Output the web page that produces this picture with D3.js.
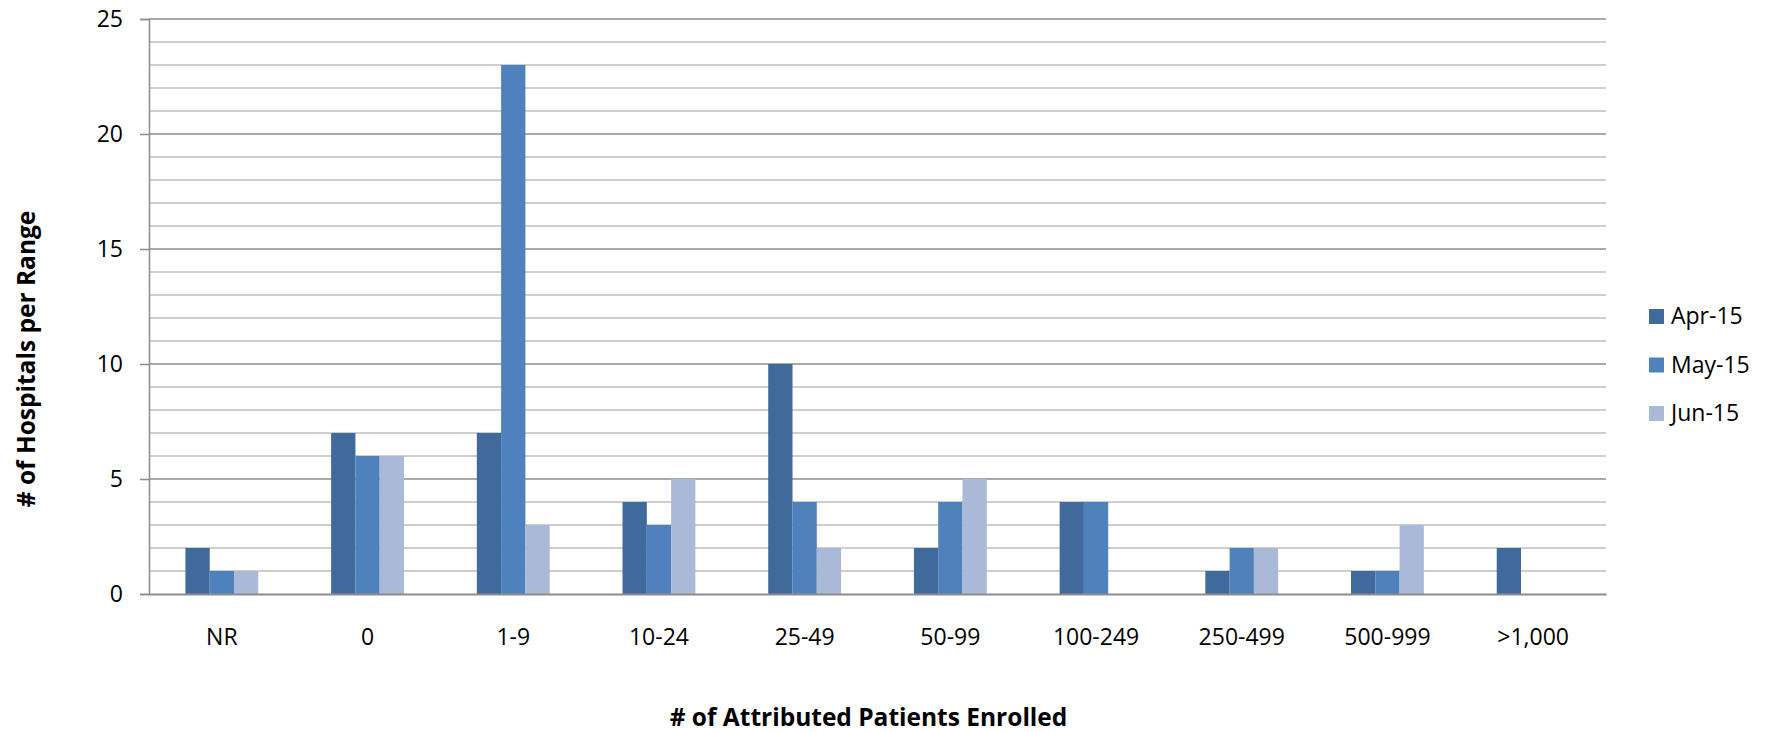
<!DOCTYPE html>
<html>
<head>
<meta charset="utf-8">
<script src="https://cdn.jsdelivr.net/npm/d3@7"></script>
<style>
  html, body { margin: 0; padding: 0; background: #fff; }
  svg text { font-family: "Open Sans", "Noto Sans", sans-serif; fill: #000; }
</style>
</head>
<body>
<svg id="chart" width="1767" height="732"></svg>
<script>
// chart data
const categories = ["NR", "0", "1-9", "10-24", "25-49", "50-99", "100-249", "250-499", "500-999", ">1,000"];
const seriesNames = ["Apr-15", "May-15", "Jun-15"];
const apr15 = [2, 7, 7, 4, 10, 2, 4, 1, 1, 2];
const may15 = [1, 6, 23, 3, 4, 4, 4, 2, 1, 0];
const jun15 = [1, 6, 3, 5, 2, 5, 0, 2, 3, 0];
const yTicks = [0, 5, 10, 15, 20, 25];
const colors = ["#40699c", "#4f81bd", "#aab9d7"];

const svg = d3.select("#chart");
const plot = { left: 149, right: 1606, top: 19, bottom: 594 };

const x = d3.scaleBand().domain(categories).range([plot.left, plot.right]);
const x1 = d3.scaleBand()
  .domain(seriesNames)
  .range([x.bandwidth() * 0.25, x.bandwidth() * 0.75]);
const y = d3.scaleLinear().domain([0, 25]).range([plot.bottom, plot.top]);

// gridlines: minor each unit, major every 5
const gridVals = d3.range(1, 26);
svg.append("g")
  .selectAll("line")
  .data(gridVals)
  .join("line")
  .attr("x1", plot.left)
  .attr("x2", plot.right)
  .attr("y1", (d) => y(d))
  .attr("y2", (d) => y(d))
  .attr("stroke", (d) => (d % 5 === 0 ? "#8c8c8c" : "#bebebe"))
  .attr("stroke-width", 1.5);

// bars
const table = categories.map((c, i) => ({
  cat: c,
  values: [apr15[i], may15[i], jun15[i]],
}));

const groups = svg.append("g")
  .selectAll("g")
  .data(table)
  .join("g")
  .attr("transform", (d) => `translate(${x(d.cat)},0)`);

groups.selectAll("rect")
  .data((d) => d.values.map((v, j) => ({ name: seriesNames[j], v, j })))
  .join("rect")
  .attr("x", (d) => x1(d.name))
  .attr("width", x1.bandwidth())
  .attr("y", (d) => y(d.v))
  .attr("height", (d) => y(0) - y(d.v))
  .attr("fill", (d) => colors[d.j]);

// y axis
const yAxis = d3.axisLeft(y).tickValues(yTicks).tickSize(9).tickPadding(17);
const yg = svg.append("g")
  .attr("transform", `translate(${plot.left},0)`)
  .call(yAxis);
yg.select(".domain").attr("stroke", "#8c8c8c").attr("stroke-width", 1.5);
yg.selectAll(".tick line").attr("stroke", "#8c8c8c").attr("stroke-width", 1.5);
yg.selectAll(".tick text")
  .attr("font-size", 23)
  .attr("font-family", "'Open Sans', sans-serif")
  .attr("fill", "#000");

// x axis
const xAxis = d3.axisBottom(x).tickSize(0).tickPadding(35);
const xg = svg.append("g")
  .attr("transform", `translate(0,${plot.bottom})`)
  .call(xAxis);
xg.select(".domain").attr("stroke", "#8c8c8c").attr("stroke-width", 2);
xg.selectAll(".tick text")
  .attr("font-size", 23)
  .attr("font-family", "'Open Sans', sans-serif")
  .attr("fill", "#000");

// axis titles
svg.append("text")
  .attr("x", (plot.left + plot.right) / 2 - 9)
  .attr("y", 726)
  .attr("text-anchor", "middle")
  .attr("font-size", 24.5)
  .attr("font-weight", "bold")
  .text("# of Attributed Patients Enrolled");

svg.append("text")
  .attr("transform", "translate(35,359) rotate(-90)")
  .attr("text-anchor", "middle")
  .attr("font-size", 24.5)
  .attr("font-weight", "bold")
  .text("# of Hospitals per Range");

// legend
const legend = svg.append("g")
  .selectAll("g")
  .data(seriesNames)
  .join("g")
  .attr("transform", (d, i) => `translate(1649,${309 + i * 48.5})`);

legend.append("rect")
  .attr("width", 15)
  .attr("height", 15)
  .attr("fill", (d, i) => colors[i]);

legend.append("text")
  .attr("x", 22)
  .attr("y", 15)
  .attr("font-size", 23)
  .text((d) => d);
</script>
</body>
</html>
